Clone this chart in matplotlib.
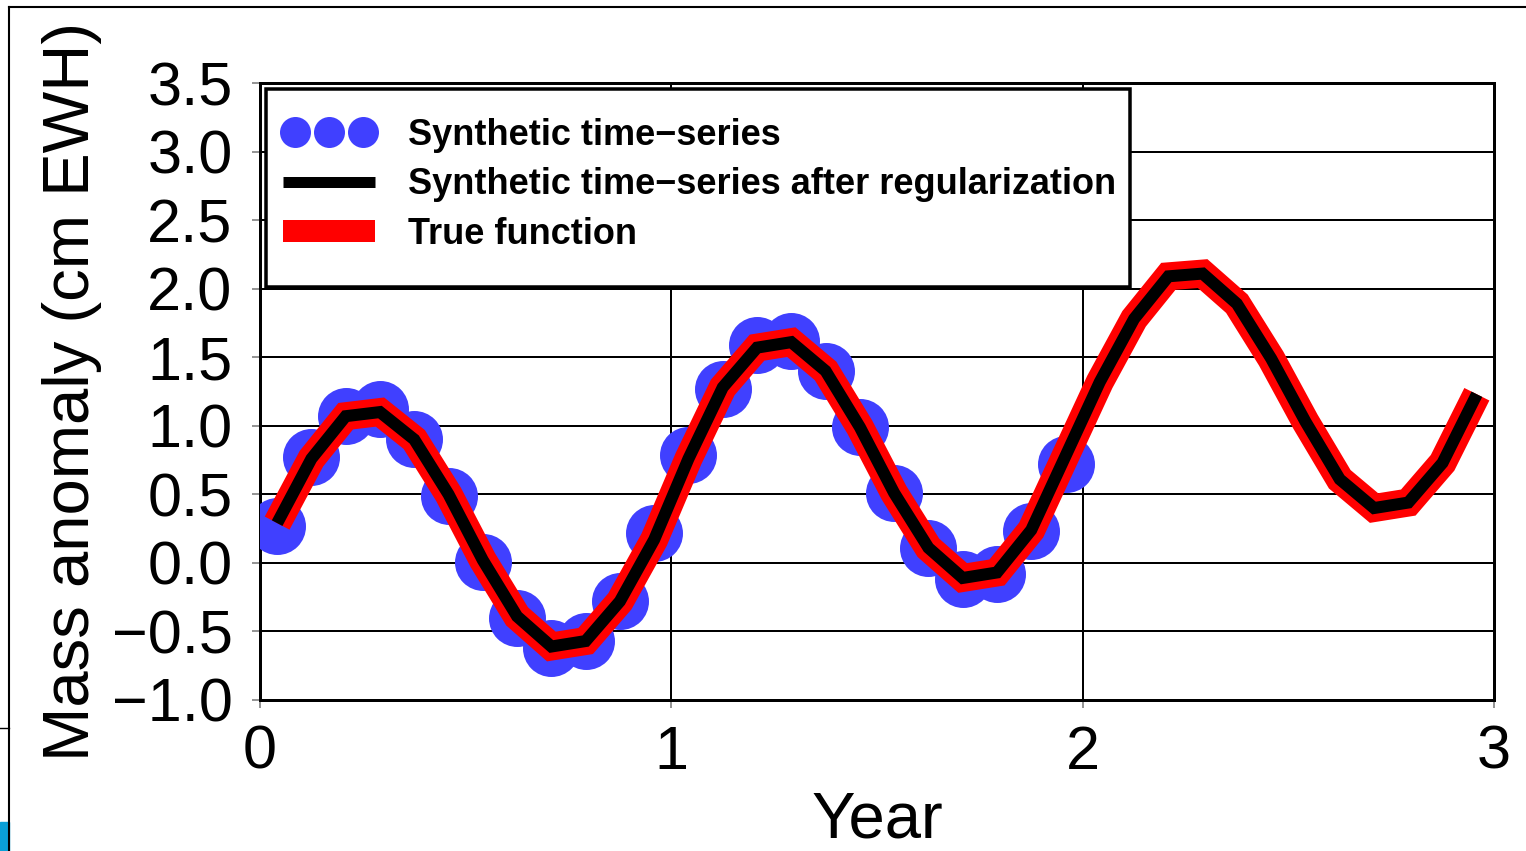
import matplotlib
matplotlib.use("Agg")
import matplotlib.pyplot as plt
from matplotlib.lines import Line2D
from matplotlib.patches import Rectangle
from matplotlib.legend_handler import HandlerLine2D
import numpy as np

plt.rcParams['font.family'] = ['Liberation Sans', 'DejaVu Sans']

# monthly epochs (years)
months = np.arange(36)
t_all = (months + 0.5) / 12.0

# synthetic (noisy) time-series, observed only during the first 24 months
synthetic_vals = [0.27, 0.77, 1.07, 1.12, 0.90, 0.49, 0.01, -0.40, -0.62, -0.57, -0.28, 0.22,
                  0.79, 1.27, 1.59, 1.62, 1.40, 0.99, 0.51, 0.11, -0.12, -0.08, 0.23, 0.72]

# regularized series (36 months)
regularized_vals = [0.29, 0.76, 1.07, 1.10, 0.90, 0.50, 0.02, -0.39, -0.61, -0.57, -0.28, 0.17,
                    0.76, 1.28, 1.57, 1.61, 1.40, 0.99, 0.51, 0.11, -0.11, -0.07, 0.24, 0.78,
                    1.32, 1.78, 2.09, 2.11, 1.89, 1.49, 1.03, 0.61, 0.40, 0.44, 0.73, 1.23]

# true function (36 months)
true_vals = [0.29, 0.76, 1.07, 1.10, 0.90, 0.50, 0.02, -0.39, -0.61, -0.57, -0.28, 0.17,
             0.76, 1.28, 1.57, 1.61, 1.40, 0.99, 0.51, 0.11, -0.11, -0.07, 0.24, 0.78,
             1.32, 1.78, 2.09, 2.11, 1.89, 1.49, 1.03, 0.61, 0.40, 0.44, 0.73, 1.23]

legend_labels = ["Synthetic time\u2212series",
                 "Synthetic time\u2212series after regularization",
                 "True function"]

x_ticks = [0, 1, 2, 3]
y_ticks = [-1.0, -0.5, 0.0, 0.5, 1.0, 1.5, 2.0, 2.5, 3.0, 3.5]

DPI = 100
W, H = 1526, 851
fig = plt.figure(figsize=(W/DPI, H/DPI), dpi=DPI)
AX_L, AX_R, AX_T, AX_B = 260, 1494, 83, 700
ax = fig.add_axes([AX_L/W, (H-AX_B)/H, (AX_R-AX_L)/W, (AX_B-AX_T)/H])
aw, ah = AX_R-AX_L, AX_B-AX_T

px = 72.0 / DPI  # points per pixel
blue = '#4040FF'

t_syn = t_all[:len(synthetic_vals)]
ax.plot(t_syn, synthetic_vals, linestyle='none', marker='o', markersize=57*px,
        markerfacecolor=blue, markeredgecolor='none', zorder=3)
ax.plot(t_all, true_vals, color='#FF0000', linewidth=28*px, solid_joinstyle='miter',
        solid_capstyle='butt', zorder=4)
ax.plot(t_all, regularized_vals, color='black', linewidth=12*px, solid_joinstyle='miter',
        solid_capstyle='butt', zorder=5)

ax.set_xlim(0, 3)
ax.set_ylim(-1.0, 3.5)
ax.set_xticks(x_ticks)
ax.set_xticklabels([str(v) for v in x_ticks])
ax.set_yticks(y_ticks)
ax.set_yticklabels([f"{v:.1f}".replace('-', '\u2212') for v in y_ticks])

ax.grid(True, color='black', linewidth=2*px, zorder=1)
ax.set_axisbelow(True)
for s in ax.spines.values():
    s.set_linewidth(3*px)
    s.set_color('black')

ax.tick_params(axis='both', direction='out', length=8*px, width=1.2,
               color='#808080', labelsize=44, pad=14)
ax.tick_params(axis='x', pad=12)

ax.set_xlabel("Year", fontsize=47, labelpad=6)
ax.set_ylabel("Mass anomaly (cm EWH)", fontsize=47, labelpad=7)

# legend box
box_l, box_r, box_t, box_b = 266, 1130, 89, 287
ax.add_patch(Rectangle(((box_l-AX_L)/aw, (AX_B-box_b)/ah), (box_r-box_l)/aw, (box_b-box_t)/ah,
                       transform=ax.transAxes, facecolor='white', edgecolor='black',
                       linewidth=3.5*px, zorder=9, clip_on=False))

handles = [
    Line2D([], [], linestyle='none', marker='o', markersize=31*px,
           markerfacecolor=blue, markeredgecolor='none'),
    Line2D([], [], color='black', linewidth=11*px, solid_capstyle='butt'),
    Line2D([], [], color='#FF0000', linewidth=22*px, solid_capstyle='butt'),
]
fs_leg = 26
fs_px = fs_leg / px
hmap = {handles[0]: HandlerLine2D(numpoints=3, marker_pad=12/fs_px),
        handles[1]: HandlerLine2D(numpoints=2, marker_pad=0),
        handles[2]: HandlerLine2D(numpoints=2, marker_pad=0)}
leg = ax.legend(handles, legend_labels, loc='upper left',
                bbox_to_anchor=((283-AX_L)/aw, (AX_B-118)/ah),
                borderaxespad=0, borderpad=0, frameon=False, handler_map=hmap,
                prop={'weight': 'bold', 'size': fs_leg},
                handlelength=92/fs_px, handletextpad=33/fs_px, labelspacing=0.40)
leg.set_zorder(10)

# screenshot framing artifacts
fig.add_artist(Line2D([9/W, 1], [1-7/H, 1-7/H], color='black', linewidth=1.5,
                      transform=fig.transFigure))
fig.add_artist(Line2D([9/W, 9/W], [0, 1-7/H], color='black', linewidth=1.5,
                      transform=fig.transFigure))
fig.add_artist(Line2D([0, 9/W], [1-728/H, 1-728/H], color='black', linewidth=1.0,
                      transform=fig.transFigure))
fig.add_artist(Rectangle((0, 0), 9/W, 29/H, color='#0AA0D8',
                         transform=fig.transFigure))

fig.savefig("out.png", dpi=DPI)
